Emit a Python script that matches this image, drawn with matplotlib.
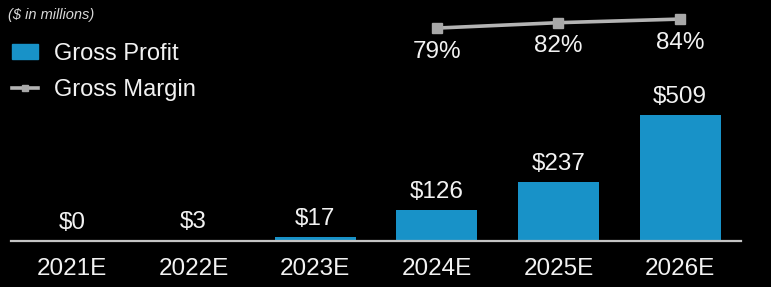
import matplotlib
matplotlib.use("Agg")
import numpy as np
from matplotlib import pyplot as plt
from matplotlib.patches import Patch
from matplotlib.lines import Line2D

years = ["2021E", "2022E", "2023E", "2024E", "2025E", "2026E"]
gross_profit = [0, 3, 17, 126, 237, 509]
margin_years = ["2024E", "2025E", "2026E"]
gross_margin = [79, 82, 84]

BLUE = "#1892c8"
GREY = "#a8a8a8"
TXT = "#f2f2f2"

plt.rcParams["font.family"] = ["Liberation Sans", "DejaVu Sans"]

W, H = 771, 287
fig = plt.figure(figsize=(W / 100, H / 100), dpi=100, facecolor="black")
ax = fig.add_axes([11 / W, (H - 241) / H, 730 / W, 241 / H], facecolor="black")

x = np.arange(len(years))
bars = ax.bar(x, gross_profit, width=0.665, color=BLUE, zorder=2)
ax.set_xlim(-0.5, 5.5)
ax.set_ylim(0, 974)

for xi, v in zip(x, gross_profit):
    ax.annotate(f"${v}", (xi, v), xytext=(0, 5), textcoords="offset points",
                ha="center", va="bottom", color=TXT, fontsize=17.5)

for s in ["top", "right", "left"]:
    ax.spines[s].set_visible(False)
ax.spines["bottom"].set_color("#c4c4c4")
ax.spines["bottom"].set_linewidth(1.6)
ax.set_yticks([])
ax.set_xticks(x)
ax.set_xticklabels(years, color=TXT, fontsize=17.5)
ax.tick_params(axis="x", length=0, pad=12)

# margin line on a twin axis
ax2 = ax.twinx()
ax2.set_ylim(-39.3, 94.6)
ax2.axis("off")
mx = [years.index(y) for y in margin_years]
ax2.plot(mx, gross_margin, color="#b4b4b4", lw=2.6, marker="s", ms=6.5,
         mfc=GREY, mec=GREY, zorder=3)
for xi, v in zip(mx, gross_margin):
    ax2.annotate(f"{v}%", (xi, v), xytext=(0, -9), textcoords="offset points",
                 ha="center", va="top", color=TXT, fontsize=17.5)

fig.text(8 / W, 1 - 15 / H, "($ in millions)", color="#d8d8d8", fontsize=10.5,
         style="italic", ha="left", va="center")

handles = [Patch(facecolor=BLUE, edgecolor=BLUE),
           Line2D([0], [0], color="#b4b4b4", lw=2.6, marker="s", ms=5, mfc=GREY, mec=GREY)]
leg = fig.legend(handles, ["Gross Profit", "Gross Margin"], loc="upper left",
                 bbox_to_anchor=(12 / W, 1 - 43 / H), frameon=False, fontsize=17,
                 labelcolor=TXT, handlelength=1.08, handleheight=0.56,
                 handletextpad=0.7, labelspacing=0.6, borderpad=0,
                 borderaxespad=0)

# title clipped at the top of the image, as in the source
fig.text(380 / W, 1 + 1 / H, "Gross Profit", color=TXT, fontsize=20,
         fontweight="bold", ha="center", va="baseline")

fig.savefig("out.png", dpi=100, facecolor="black")
